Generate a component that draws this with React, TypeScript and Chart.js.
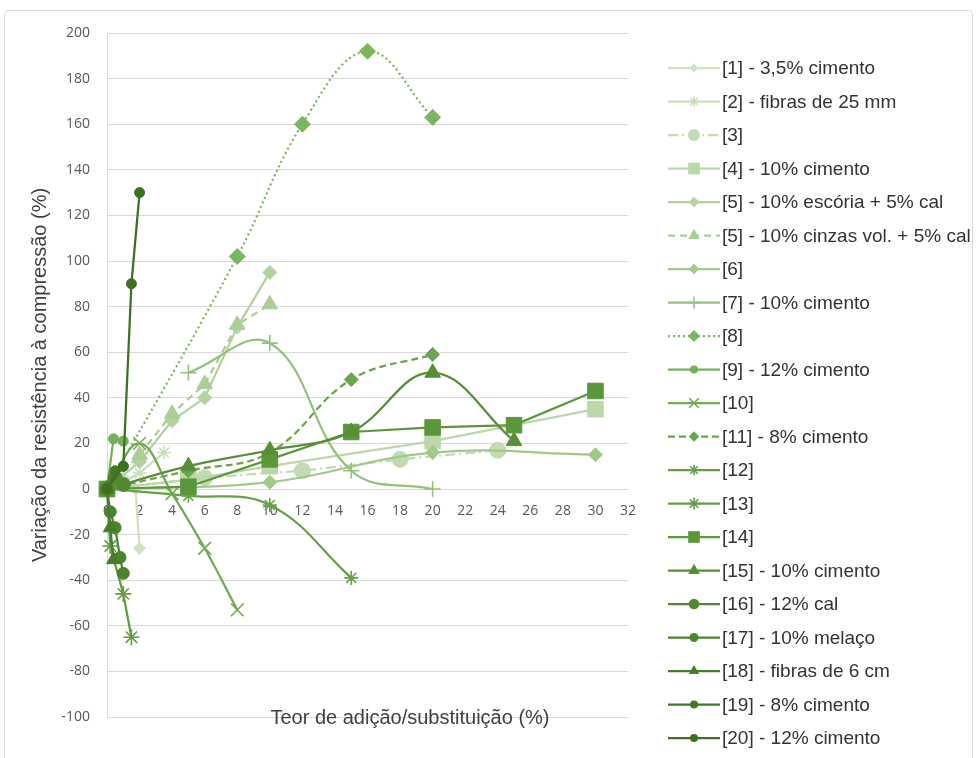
import React, { useEffect, useRef } from 'react';
import { Chart, registerables } from 'chart.js';

Chart.register(...registerables);

// ---------- data ----------
const SERIES_NAMES = [
  '[1] - 3,5% cimento',
  '[2] - fibras de 25 mm',
  '[3]',
  '[4] - 10% cimento',
  '[5] - 10% escória + 5% cal',
  '[5] - 10% cinzas vol. + 5% cal',
  '[6]',
  '[7] - 10% cimento',
  '[8]',
  '[9] - 12% cimento',
  '[10]',
  '[11] - 8% cimento',
  '[12]',
  '[13]',
  '[14]',
  '[15] - 10% cimento',
  '[16] - 12% cal',
  '[17] - 10% melaço',
  '[18] - fibras de 6 cm',
  '[19] - 8% cimento',
  '[20] - 12% cimento',
];

const S01_X = [0, 1, 1.75, 2];
const S01_Y = [0, 5, 0, -26];
const S02_X = [0, 1, 2, 3.5];
const S02_Y = [0, 3, 7, 16];
const S03_X = [0, 6, 12, 18, 24];
const S03_Y = [0, 5, 8, 13, 17];
const S04_X = [0, 5, 10, 20, 30];
const S04_Y = [0, 4, 10, 21, 35];
const S05_X = [0, 2, 4, 6, 8, 10];
const S05_Y = [0, 12, 30, 40, 71, 95];
const S06_X = [0, 2, 4, 6, 8, 10];
const S06_Y = [0, 15, 33, 46, 72, 81];
const S07_X = [0, 10, 20, 30];
const S07_Y = [0, 3, 16, 15];
const S08_X = [5, 10, 15, 20];
const S08_Y = [51, 64, 8, 0];
const S09_X = [0, 8, 12, 16, 20];
const S09_Y = [0, 102, 160, 192, 163];
const S10_X = [0, 0.4, 1];
const S10_Y = [0, 22, 21];
const S11_X = [0, 2, 4, 6, 8];
const S11_Y = [0, 20, -2, -26, -53];
const S12_X = [0, 5, 10, 15, 20];
const S12_Y = [0, 8, 16, 48, 59];
const S13_X = [0, 5, 10, 15];
const S13_Y = [0, -3, -7, -39];
const S14_X = [0, 0.2, 1, 1.5];
const S14_Y = [0, -25, -46, -65];
const S15_X = [0, 5, 10, 15, 20, 25, 30];
const S15_Y = [0, 1, 13, 25, 27, 28, 43];
const S16_X = [0, 5, 10, 15, 20, 25];
const S16_Y = [0, 10, 17, 25, 51, 21];
const S17_X = [0, 0.5, 1];
const S17_Y = [0, 5, 2];
const S18_X = [0, 0.2, 0.5, 0.8, 1];
const S18_Y = [0, -10, -17, -30, -37];
const S19_X = [0, 0.2, 0.4];
const S19_Y = [0, -17, -31];
const S20_X = [0, 0.5, 1];
const S20_Y = [0, 8, 10];
const S21_X = [0, 1, 1.5, 2];
const S21_Y = [0, 10, 90, 130];

const SERIES_X = [S01_X, S02_X, S03_X, S04_X, S05_X, S06_X, S07_X, S08_X, S09_X, S10_X, S11_X,
  S12_X, S13_X, S14_X, S15_X, S16_X, S17_X, S18_X, S19_X, S20_X, S21_X];
const SERIES_Y = [S01_Y, S02_Y, S03_Y, S04_Y, S05_Y, S06_Y, S07_Y, S08_Y, S09_Y, S10_Y, S11_Y,
  S12_Y, S13_Y, S14_Y, S15_Y, S16_Y, S17_Y, S18_Y, S19_Y, S20_Y, S21_Y];

const X_MIN = 0;
const X_MAX = 32;
const X_STEP = 2;
const Y_MIN = -100;
const Y_MAX = 200;
const Y_STEP = 20;

const X_TITLE = 'Teor de adição/substituição (%)';
const Y_TITLE = 'Variação da resistência à compressão (%)';

// ---------- styles ----------
const COLORS = ['#cfe2c3', '#c8dfba', '#c2dbb2', '#bcd7aa', '#b3d29f', '#abce95', '#a1c98a', '#94c27c',
  '#7ab55f', '#76b05a', '#70ab52', '#6aa64b', '#66a146', '#619c41', '#5c973c', '#578f37', '#518932',
  '#4c832e', '#477d2a', '#427726', '#3d7122'];
const MARKERS = ['rectRot', 'star', 'circle', 'rect', 'rectRot', 'triangle', 'rectRot', 'cross', 'rectRot',
  'circle', 'crossRot', 'rectRot', 'star', 'star', 'rect', 'triangle', 'circle', 'circle', 'triangle',
  'circle', 'circle'];
const RADII = [6, 7, 8, 11, 7, 9, 7, 8, 8, 5, 9, 7, 7, 8, 11, 9, 7, 6, 8, 5, 5];
const DASHES: number[][] = [[], [], [10, 4, 2, 4], [], [], [7, 5], [], [], [2, 3], [], [], [7, 4], [], [],
  [], [], [], [], [], [], []];
const TENSION = [0, 0, 0, 0, 0, 0, 0.4, 0.4, 0.4, 0, 0.4, 0.4, 0.4, 0, 0, 0.4, 0, 0, 0, 0, 0];

function drawMarker(ctx: CanvasRenderingContext2D, style: string, x: number, y: number, r: number, color: string) {
  ctx.save();
  ctx.setLineDash([]);
  ctx.fillStyle = color;
  ctx.strokeStyle = color;
  ctx.lineWidth = 1.6;
  ctx.beginPath();
  const d = r * Math.SQRT1_2;
  switch (style) {
    case 'circle':
      ctx.arc(x, y, r, 0, Math.PI * 2);
      ctx.fill();
      break;
    case 'rect':
      ctx.rect(x - d, y - d, 2 * d, 2 * d);
      ctx.fill();
      break;
    case 'rectRot':
      ctx.moveTo(x - r, y);
      ctx.lineTo(x, y - r);
      ctx.lineTo(x + r, y);
      ctx.lineTo(x, y + r);
      ctx.closePath();
      ctx.fill();
      break;
    case 'triangle': {
      const a = (2 * Math.PI) / 3;
      ctx.moveTo(x, y - r);
      ctx.lineTo(x + Math.sin(a) * r, y - Math.cos(a) * r);
      ctx.lineTo(x + Math.sin(2 * a) * r, y - Math.cos(2 * a) * r);
      ctx.closePath();
      ctx.fill();
      break;
    }
    case 'cross':
      ctx.moveTo(x - r, y); ctx.lineTo(x + r, y);
      ctx.moveTo(x, y - r); ctx.lineTo(x, y + r);
      ctx.stroke();
      break;
    case 'crossRot':
      ctx.moveTo(x - d, y - d); ctx.lineTo(x + d, y + d);
      ctx.moveTo(x + d, y - d); ctx.lineTo(x - d, y + d);
      ctx.stroke();
      break;
    case 'star':
      ctx.moveTo(x - r, y); ctx.lineTo(x + r, y);
      ctx.moveTo(x, y - r); ctx.lineTo(x, y + r);
      ctx.moveTo(x - d, y - d); ctx.lineTo(x + d, y + d);
      ctx.moveTo(x + d, y - d); ctx.lineTo(x - d, y + d);
      ctx.stroke();
      break;
  }
  ctx.restore();
}

const decorPlugin = {
  id: 'decor',
  beforeDraw(chart: any) {
    const ctx: CanvasRenderingContext2D = chart.ctx;
    ctx.save();
    ctx.strokeStyle = '#d9d9d9';
    ctx.lineWidth = 1;
    ctx.beginPath();
    if ((ctx as any).roundRect) (ctx as any).roundRect(4.5, 10.5, 968, 770, 4);
    else ctx.rect(4.5, 10.5, 968, 770);
    ctx.stroke();
    ctx.restore();
  },
  afterDraw(chart: any) {
    const ctx: CanvasRenderingContext2D = chart.ctx;
    const area = chart.chartArea;
    ctx.save();
    ctx.fillStyle = '#404040';
    ctx.font = '20px "Liberation Sans", Arial, sans-serif';
    ctx.textAlign = 'center';
    ctx.textBaseline = 'middle';
    ctx.fillText(X_TITLE, 410, 718);
    ctx.save();
    ctx.translate(40, (area.top + area.bottom) / 2);
    ctx.rotate(-Math.PI / 2);
    ctx.fillText(Y_TITLE, 0, 0);
    ctx.restore();

    // legend
    const x0 = 668;
    const x1 = 720;
    const top = 68;
    const step = 33.5;
    ctx.font = '19px "Liberation Sans", Arial, sans-serif';
    ctx.textAlign = 'left';
    chart.data.datasets.forEach((ds: any, i: number) => {
      const y = top + i * step;
      ctx.save();
      ctx.strokeStyle = ds.borderColor;
      ctx.lineWidth = ds.borderWidth;
      ctx.setLineDash(ds.borderDash || []);
      ctx.beginPath();
      ctx.moveTo(x0, y);
      ctx.lineTo(x1, y);
      ctx.stroke();
      ctx.restore();
      drawMarker(ctx, ds.pointStyle, (x0 + x1) / 2, y, Math.max(4, ds.pointRadius * 0.75), ds.borderColor);
      ctx.fillStyle = '#333333';
      ctx.fillText(ds.label, x1 + 2, y + 1);
    });
    ctx.restore();
  },
};

export default function App() {
  const ref = useRef<HTMLCanvasElement | null>(null);
  useEffect(() => {
    if (!ref.current) return;
    const datasets = SERIES_NAMES.map((name, i) => ({
      label: name,
      data: SERIES_X[i].map((x, j) => ({ x, y: SERIES_Y[i][j] })),
      showLine: true,
      borderColor: COLORS[i],
      backgroundColor: COLORS[i],
      borderWidth: 2.25,
      borderDash: DASHES[i],
      tension: TENSION[i],
      pointStyle: MARKERS[i],
      pointRadius: RADII[i],
      pointHoverRadius: RADII[i],
      pointBackgroundColor: COLORS[i],
      pointBorderColor: COLORS[i],
      pointBorderWidth: ['cross', 'crossRot', 'star'].includes(MARKERS[i]) ? 1.6 : 1,
      clip: false,
      order: SERIES_NAMES.length - i,
    }));
    const chart = new Chart(ref.current, {
      type: 'scatter',
      data: { datasets },
      plugins: [decorPlugin],
      options: {
        animation: false,
        responsive: false,
        devicePixelRatio: 1,
        layout: { padding: { left: 0, top: 33, right: 350, bottom: 41 } },
        plugins: { legend: { display: false }, tooltip: { enabled: false } },
        scales: {
          x: {
            type: 'linear',
            position: { y: 0 },
            min: X_MIN,
            max: X_MAX,
            grid: { display: false, drawTicks: false },
            border: { display: false },
            ticks: {
              stepSize: X_STEP,
              padding: 14,
              color: '#595959',
              font: { family: '"Open Sans", sans-serif', size: 14 },
            },
            afterFit: (s: any) => { s.height = 0; },
          },
          y: {
            type: 'linear',
            position: 'left',
            min: Y_MIN,
            max: Y_MAX,
            grid: { color: '#d9d9d9', lineWidth: 1, drawTicks: false },
            border: { display: true, color: '#d9d9d9', width: 1 },
            ticks: {
              stepSize: Y_STEP,
              padding: 17,
              color: '#595959',
              font: { family: '"Open Sans", sans-serif', size: 14 },
            },
            afterFit: (s: any) => { s.width = 107; },
          },
        },
      } as any,
    });
    return () => chart.destroy();
  }, []);
  return (
    <div style={{ position: 'fixed', left: 0, top: 0, width: 978, height: 758, background: '#fff' }}>
      <canvas ref={ref} width={978} height={758} style={{ display: 'block' }} />
    </div>
  );
}
